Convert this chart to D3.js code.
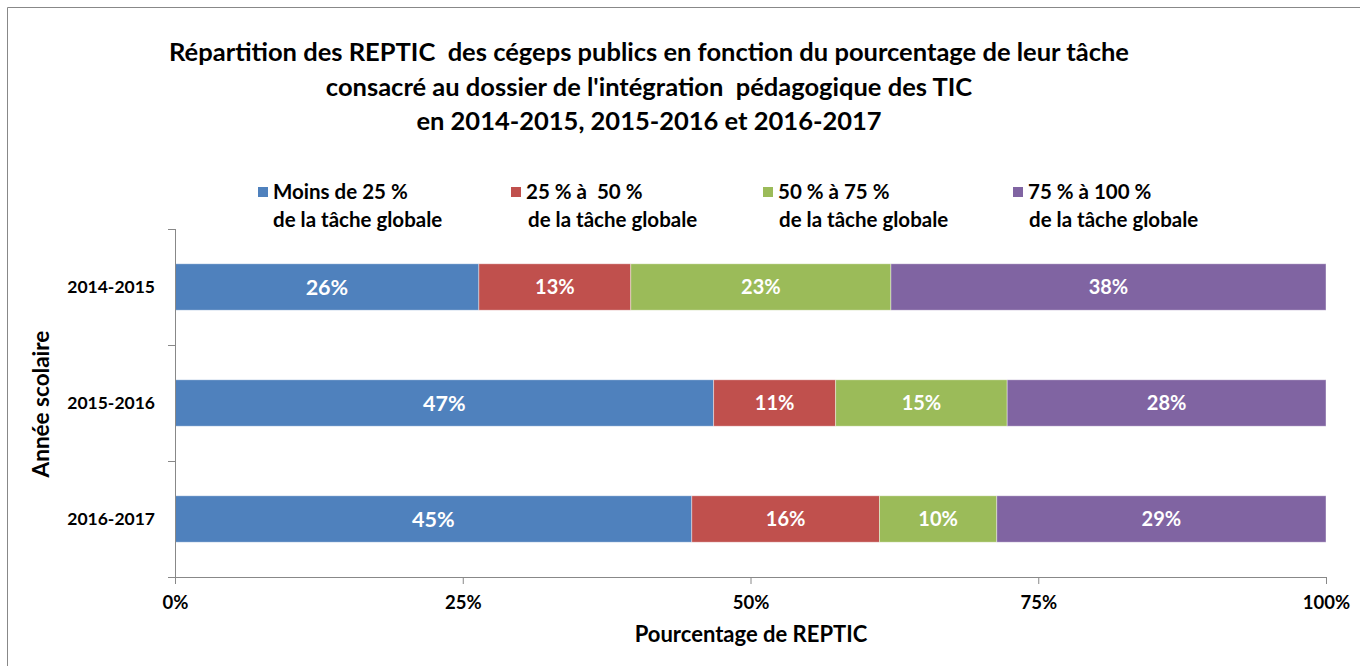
<!DOCTYPE html>
<html>
<head>
<meta charset="utf-8">
<script src="https://cdn.jsdelivr.net/npm/d3@7"></script>
<style>
  html, body { margin: 0; padding: 0; background: #fff; }
  svg { display: block; }
  text { font-family: Lato, "Open Sans", sans-serif; font-weight: bold; white-space: pre; }
</style>
</head>
<body>
<div id="chart"></div>
<script>
'use strict';

// data (per cent of REPTIC, per school year)
const years = ['2014-2015', '2015-2016', '2016-2017'];
const seriesNames = ['Moins de 25 %', '25 % à  50 %', '50 % à 75 %', '75 % à 100 %'];
const seriesSub = 'de la tâche globale';
const colors = ['#4F81BD', '#C0504D', '#9BBB59', '#8064A2'];
const lessThan25 = [26.4, 46.8, 44.9];
const from25to50 = [13.2, 10.6, 16.3];
const from50to75 = [22.6, 14.9, 10.2];
const from75to100 = [37.8, 27.7, 28.6];
const xTicks = [0, 0.25, 0.5, 0.75, 1];
const titleLines = [
    'Répartition des REPTIC  des cégeps publics en fonction du pourcentage de leur tâche',
    'consacré au dossier de l\'intégration  pédagogique des TIC',
    'en 2014-2015, 2015-2016 et 2016-2017'
];

const width = 1360,
    height = 666;

const margin = { left: 175, right: 34, top: 229, bottom: 89 };

const svg = d3.select('#chart').append('svg')
    .attr('width', width)
    .attr('height', height);

// outer frame
svg.append('path')
    .attr('d', 'M7.5,' + height + 'V7.5H' + width)
    .style('fill', 'none')
    .style('stroke', '#888')
    .style('stroke-width', 1);

// title
svg.append('g').selectAll('text')
    .data(titleLines)
    .enter()
    .append('text')
    .attr('x', 649)
    .attr('y', function (d, i) { return 61 + i * 34.5; })
    .attr('text-anchor', 'middle')
    .attr('font-size', 25.5)
    .attr('fill', '#000')
    .text(function (d) { return d; });

// legend
const legendX = [258, 511, 763, 1013];
const legend = svg.append('g').selectAll('.legend')
    .data(seriesNames)
    .enter()
    .append('g')
    .attr('class', 'legend')
    .attr('transform', function (d, i) { return 'translate(' + legendX[i] + ',0)'; });

legend.append('rect')
    .attr('x', 0)
    .attr('y', 187)
    .attr('width', 10)
    .attr('height', 10)
    .style('fill', function (d, i) { return colors[i]; });

legend.append('text')
    .attr('x', 15)
    .attr('y', 199)
    .attr('font-size', 20.5)
    .text(function (d) { return d; });

legend.append('text')
    .attr('x', function (d, i) { return [15, 17, 16, 16][i]; })
    .attr('y', 227)
    .attr('font-size', 20.5)
    .text(seriesSub);

// stacked data
const table = years.map(function (y, i) {
    return { year: y, s0: lessThan25[i], s1: from25to50[i], s2: from50to75[i], s3: from75to100[i] };
});
const keys = ['s0', 's1', 's2', 's3'];
const stacked = d3.stack().keys(keys).offset(d3.stackOffsetExpand)(table);

const x = d3.scaleLinear()
    .domain([0, 1])
    .range([margin.left, width - margin.right]);

const y = d3.scaleBand()
    .domain(years)
    .range([margin.top, height - margin.bottom])
    .paddingInner(0.6)
    .paddingOuter(0.3);

// bars
const layers = svg.append('g').selectAll('.layer')
    .data(stacked)
    .enter()
    .append('g')
    .attr('class', 'layer')
    .style('fill', function (d, i) { return colors[i]; });

layers.selectAll('rect')
    .data(function (d) { return d; })
    .enter()
    .append('rect')
    .attr('x', function (d) { return x(d[0]); })
    .attr('y', function (d) { return y(d.data.year); })
    .attr('width', function (d) { return x(d[1]) - x(d[0]); })
    .attr('height', y.bandwidth())
    .style('stroke', '#fff')
    .style('stroke-opacity', 0.5)
    .style('stroke-width', 0.8);

layers.each(function (layer, li) {
    d3.select(this).selectAll('text')
        .data(layer)
        .enter()
        .append('text')
        .attr('x', function (d) { return (x(d[0]) + x(d[1])) / 2; })
        .attr('y', function (d) { return y(d.data.year) + y.bandwidth() / 2; })
        .attr('dy', '0.36em')
        .attr('text-anchor', 'middle')
        .attr('font-size', li === 0 ? 21.5 : 20)
        .style('fill', '#fff')
        .text(function (d) { return d3.format('.0%')(d[1] - d[0]); });
});

// x axis
const xAxis = svg.append('g')
    .attr('transform', 'translate(0,' + (height - margin.bottom) + ')')
    .call(d3.axisBottom(x).tickValues(xTicks).tickFormat(d3.format('.0%')).tickSize(7).tickPadding(12));

xAxis.select('.domain').attr('d', 'M' + (margin.left - 7) + ',0.5H' + x(1)).style('stroke', '#888');
xAxis.selectAll('.tick line').style('stroke', '#888');
xAxis.selectAll('.tick text')
    .attr('font-size', 18.5)
    .attr('font-family', 'Lato, sans-serif')
    .attr('font-weight', 'bold')
    .style('fill', '#000');

// y axis with ticks between categories
const yAxis = svg.append('g')
    .attr('transform', 'translate(' + margin.left + ',0)');

yAxis.append('line')
    .attr('x1', 0.5).attr('x2', 0.5)
    .attr('y1', margin.top).attr('y2', height - margin.bottom)
    .style('stroke', '#888');

const step = (height - margin.bottom - margin.top) / years.length;
yAxis.selectAll('.ytick')
    .data(d3.range(years.length + 1))
    .enter()
    .append('line')
    .attr('x1', -7).attr('x2', 0)
    .attr('y1', function (d) { return margin.top + d * step + 0.5; })
    .attr('y2', function (d) { return margin.top + d * step + 0.5; })
    .style('stroke', '#888');

yAxis.selectAll('.ylabel')
    .data(years)
    .enter()
    .append('text')
    .attr('x', -20)
    .attr('y', function (d) { return y(d) + y.bandwidth() / 2; })
    .attr('dy', '0.36em')
    .attr('text-anchor', 'end')
    .attr('font-size', 17.5)
    .text(function (d) { return d; });

// axis titles
svg.append('text')
    .attr('x', 751)
    .attr('y', 642)
    .attr('text-anchor', 'middle')
    .attr('font-size', 22)
    .text('Pourcentage de REPTIC');

svg.append('text')
    .attr('transform', 'translate(49,404) rotate(-90)')
    .attr('text-anchor', 'middle')
    .attr('font-size', 22.5)
    .text('Année scolaire');
</script>
</body>
</html>
